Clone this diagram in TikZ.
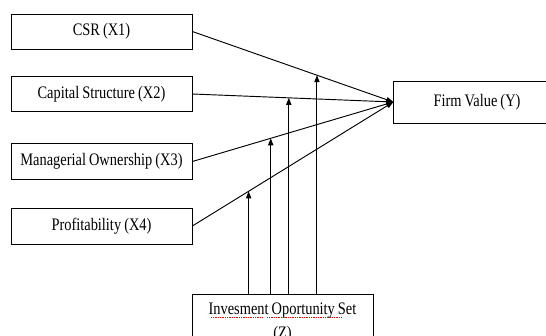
\documentclass[tikz,border=0pt]{standalone}
\usepackage{fontspec}
\setmainfont[FakeStretch=0.82]{Liberation Serif}
\usetikzlibrary{arrows.meta}
\newcommand\varfont{\fontsize{15}{17}\selectfont\spaceskip=2.6pt plus 1pt\relax}
\newcommand\modfont{\fontsize{15}{20.5}\selectfont\spaceskip=2.6pt plus 1pt\relax}
\begin{document}
\begin{tikzpicture}[x=0.03cm, y=-0.03cm,
    >={Triangle[length=6pt,width=4.5pt]},
    var/.style={draw, line width=0.6pt, minimum width=5.43cm, minimum height=1.05cm,
      inner sep=0pt, font=\varfont},
    path/.style={->, line width=0.8pt}]
  \useasboundingbox (0,0) rectangle (546,336);

  \node[var] (x1) at (101.5,31.5) {CSR (X1)};
  \node[var] (x2) at (101.5,94) {Capital Structure (X2)};
  \node[var, minimum height=1.1cm] (x3) at (101.5,161.5) {Managerial Ownership (X3)};
  \node[var, minimum height=1.08cm] (x4) at (101.5,226) {Profitability (X4)};
  \node[var, minimum width=5cm, minimum height=1.26cm] (y) at (477,102) {Firm Value (Y)};
  \node[draw, line width=0.6pt, anchor=north, minimum width=5.43cm, align=center,
    inner xsep=0pt, inner ysep=7.5pt, font=\modfont]
    (z) at (282.5,294) {Invesment Oportunity Set\\(Z)};

  % direct effects
  \draw[path] (x1.east) -- (y.west) coordinate[pos=0.62] (m1);
  \draw[path] (x2.east) -- (y.west) coordinate[pos=0.48] (m2);
  \draw[path] (x3.east) -- (y.west) coordinate[pos=0.39] (m3);
  \draw[path] (x4.east) -- (y.west) coordinate[pos=0.28] (m4);

  % moderating effects
  \draw[path] (m1 |- z.north) -- (m1);
  \draw[path] (m2 |- z.north) -- (m2);
  \draw[path] (m3 |- z.north) -- (m3);
  \draw[path] (m4 |- z.north) -- (m4);

  % spell check marks
  \draw[red, densely dotted, line width=0.5pt] (211,317.5) -- (263,317.5);
  \draw[red, densely dotted, line width=0.5pt] (267,317.5) -- (342,317.5);
\end{tikzpicture}
\end{document}
